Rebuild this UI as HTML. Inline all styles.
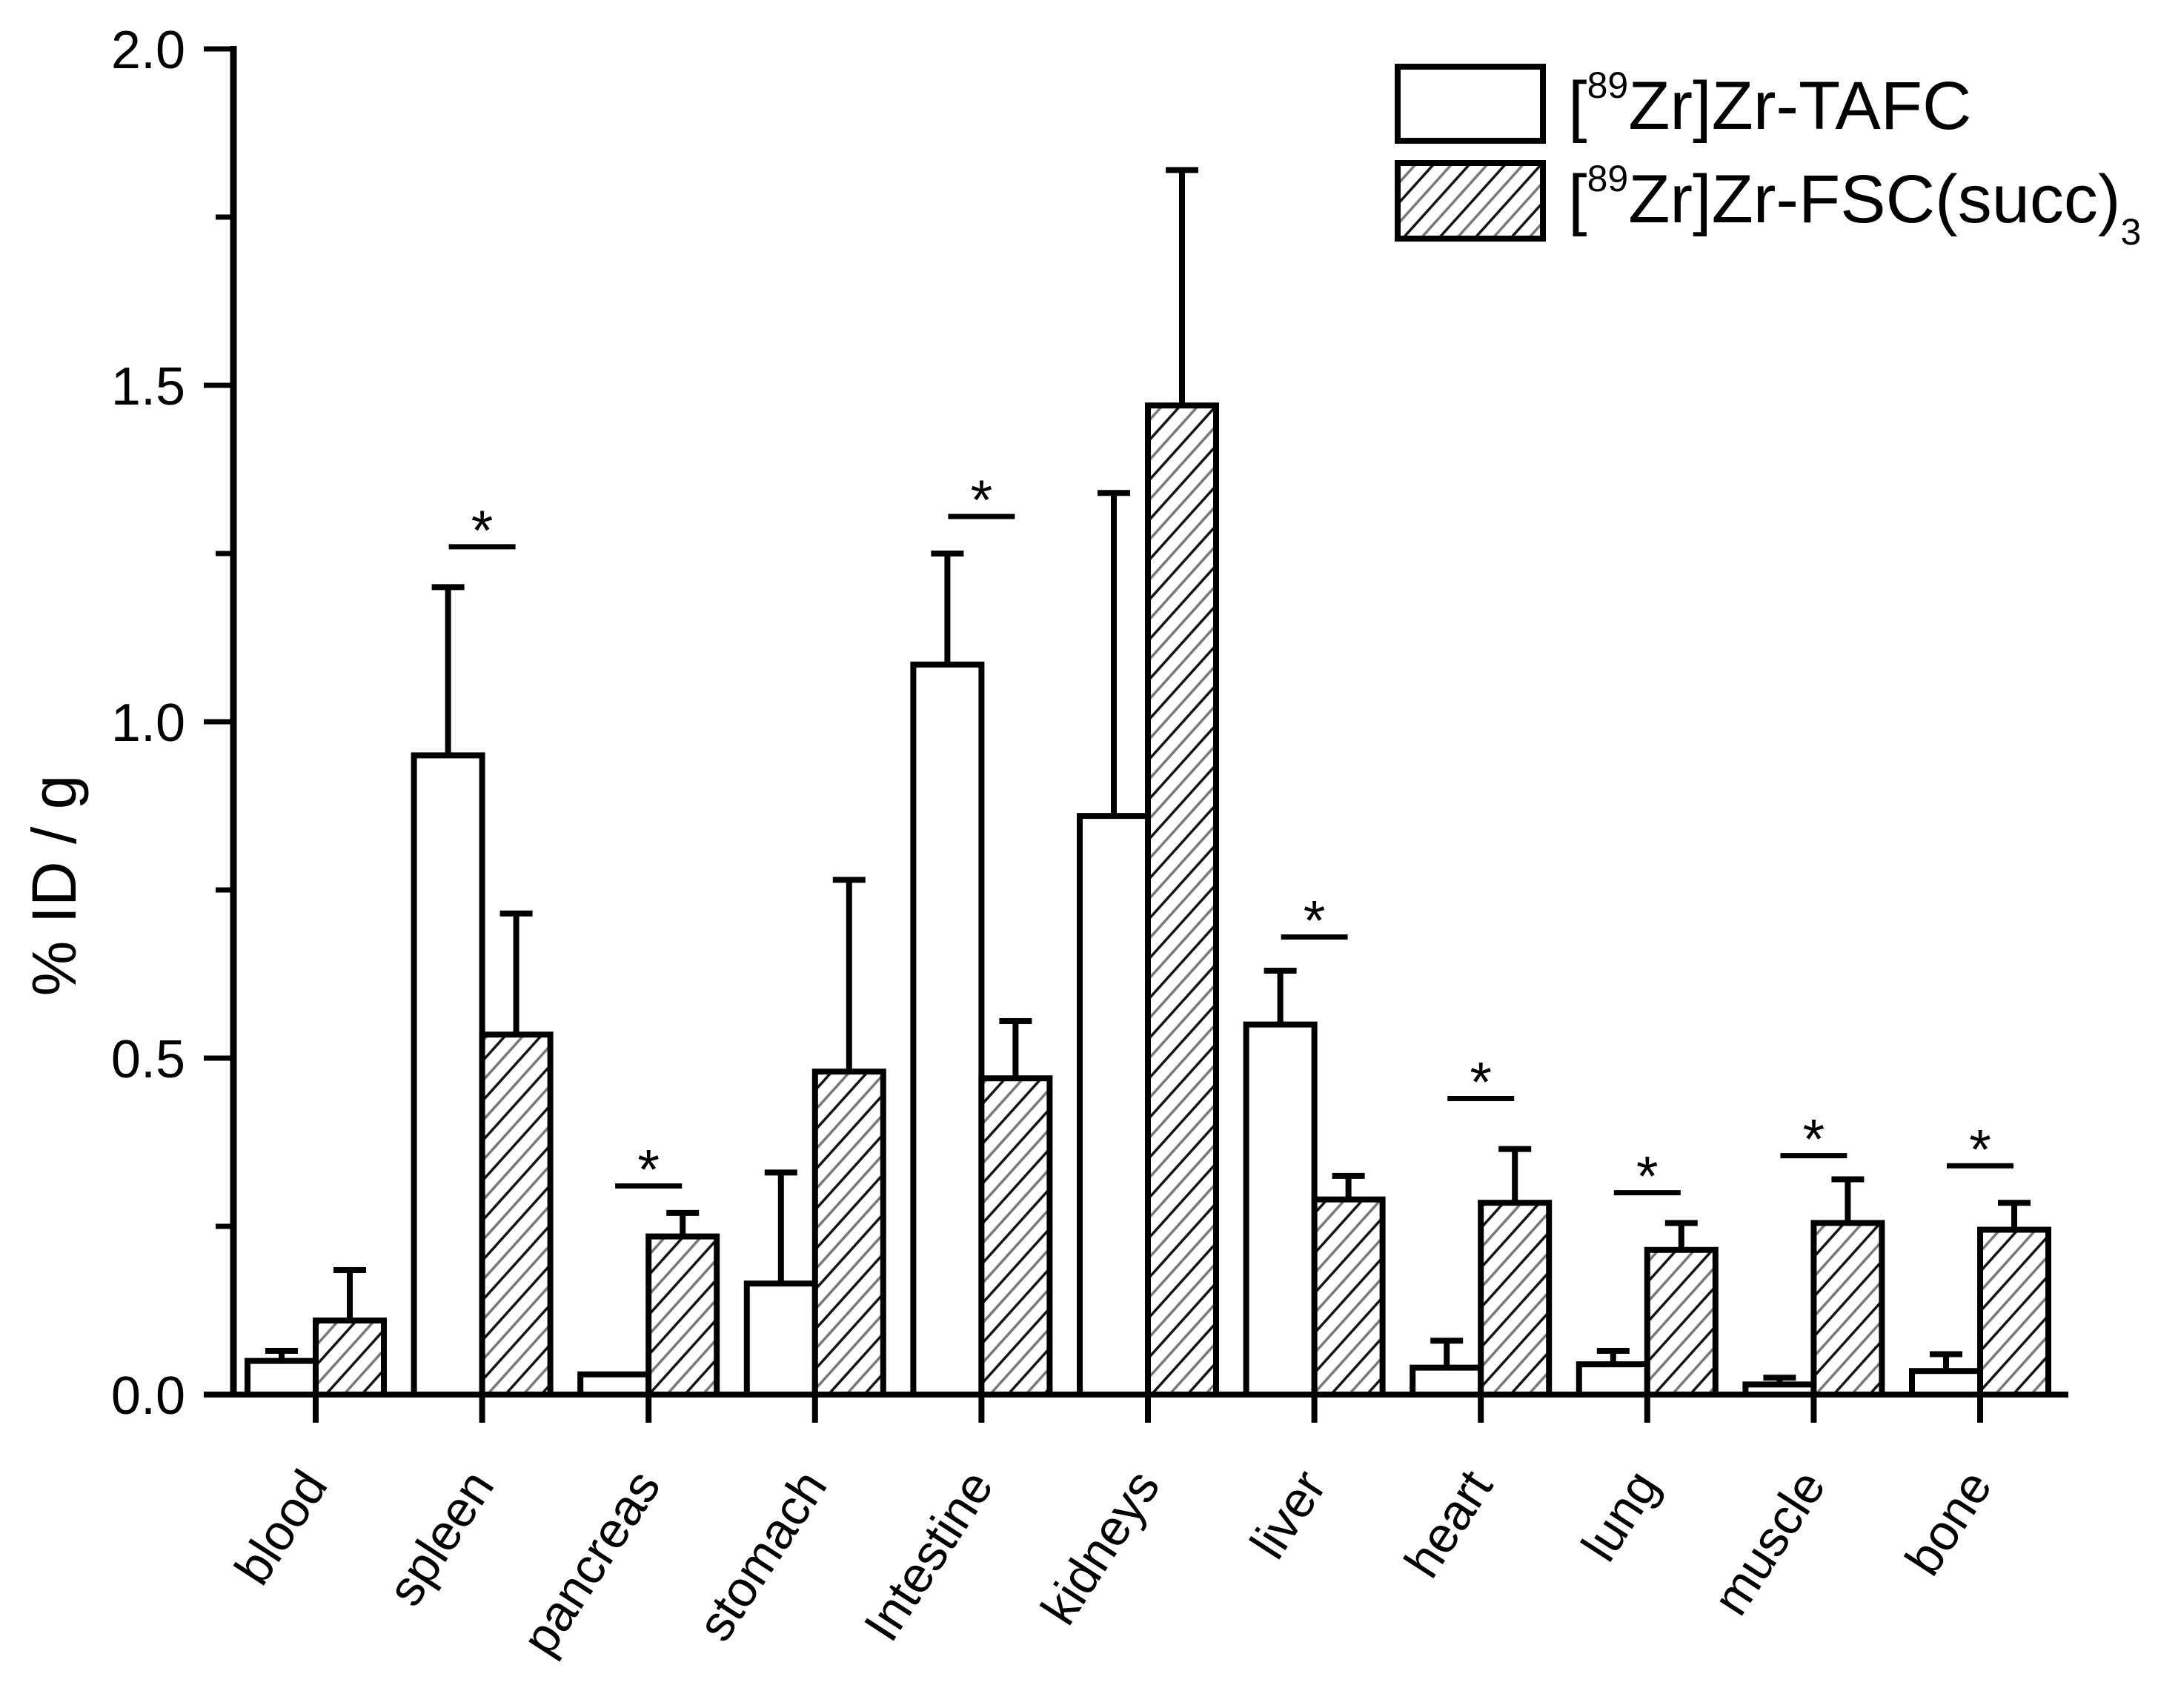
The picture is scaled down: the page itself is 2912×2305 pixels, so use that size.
<!DOCTYPE html>
<html><head><meta charset="utf-8"><title>Biodistribution</title>
<style>html,body{margin:0;padding:0;background:#fff}svg{display:block}</style></head>
<body>
<svg id="chart" width="2912" height="2305" viewBox="0 0 2912 2305" xmlns="http://www.w3.org/2000/svg" font-family="'Liberation Sans', sans-serif">
<defs>
<pattern id="hatch" patternUnits="userSpaceOnUse" width="36" height="36" patternTransform="rotate(42)">
<rect width="36" height="36" fill="#fff"/>
<line x1="2" y1="0" x2="2" y2="36" stroke="#111" stroke-width="3.5"/>
<line x1="20" y1="0" x2="20" y2="36" stroke="#777" stroke-width="3.5"/>
</pattern>
</defs>
<rect width="2912" height="2305" fill="#fff"/>
<g id="plot"></g>
<text transform="translate(102,1195) rotate(-90)" text-anchor="middle" font-size="84">% ID / g</text>
<g>
<rect x="1886" y="90" width="196" height="100" fill="#fff" stroke="#000" stroke-width="8"/>
<text x="2116" y="174" font-size="92">[<tspan font-size="50" dy="-42">89</tspan><tspan dy="42">Zr]Zr-TAFC</tspan></text>
<rect x="1886" y="220" width="196" height="102" fill="url(#hatch)" stroke="#000" stroke-width="8"/>
<text x="2116" y="300" font-size="92">[<tspan font-size="50" dy="-42">89</tspan><tspan dy="42">Zr]Zr-FSC(succ)</tspan><tspan font-size="50" dy="30">3</tspan></text>
</g>
</svg>
<script>
const categories = ["blood","spleen","pancreas","stomach","Intestine","kidneys","liver","heart","lung","muscle","bone"];
const tafcValues = [0.05,0.95,0.03,0.165,1.085,0.86,0.55,0.04,0.045,0.015,0.035];
const tafcErrTop = [0.065,1.2,0.03,0.33,1.25,1.34,0.63,0.08,0.065,0.025,0.06];
const fscValues = [0.11,0.535,0.235,0.48,0.47,1.47,0.29,0.285,0.215,0.255,0.245];
const fscErrTop = [0.185,0.715,0.27,0.765,0.555,1.82,0.325,0.365,0.255,0.32,0.285];
const sigLevels = [null,1.26,0.31,null,1.305,null,0.68,0.44,0.30,0.355,0.34];
const yTicks = [0,0.5,1.0,1.5,2.0];
const yTickLabels = ["0.0","0.5","1.0","1.5","2.0"];

const NS = "http://www.w3.org/2000/svg";
const X0 = 426, STEP = 224.6, BW = 92, AXX = 315, AXY = 1882, XEND = 2791;
function yScale(v){ return AXY - v * 908; }
function xCenter(i){ return X0 + i * STEP; }
const plot = document.getElementById('plot');
function mk(tag, attrs){ const e = document.createElementNS(NS, tag); for (const k in attrs) e.setAttribute(k, attrs[k]); plot.appendChild(e); return e; }

categories.forEach((c, i) => {
  const cx = xCenter(i);
  let h = AXY - yScale(tafcValues[i]);
  let r = mk('rect', {x: cx - BW, y: yScale(tafcValues[i]), width: BW, height: h, fill: '#fff', stroke: '#000', 'stroke-width': 8});
  
  
  if (tafcErrTop[i] > tafcValues[i]) {
    let ex = cx - BW / 2;
    let l = mk('line', {x1: ex, x2: ex, y1: yScale(tafcValues[i]), y2: yScale(tafcErrTop[i]), stroke: '#000', 'stroke-width': 8});
    
    
    let cp = mk('line', {x1: ex - 22, x2: ex + 22, y1: yScale(tafcErrTop[i]), y2: yScale(tafcErrTop[i]), stroke: '#000', 'stroke-width': 8});
    
    
  }
  h = AXY - yScale(fscValues[i]);
  r = mk('rect', {x: cx, y: yScale(fscValues[i]), width: BW, height: h, fill: 'url(#hatch)', stroke: '#000', 'stroke-width': 8});
  
  
  {
    let ex = cx + BW / 2;
    let l = mk('line', {x1: ex, x2: ex, y1: yScale(fscValues[i]), y2: yScale(fscErrTop[i]), stroke: '#000', 'stroke-width': 8});
    
    
    let cp = mk('line', {x1: ex - 22, x2: ex + 22, y1: yScale(fscErrTop[i]), y2: yScale(fscErrTop[i]), stroke: '#000', 'stroke-width': 8});
    
    
  }
  if (sigLevels[i] !== null) {
    let sy = yScale(sigLevels[i]);
    let sl = mk('line', {x1: cx - 45, x2: cx + 45, y1: sy, y2: sy, stroke: '#000', 'stroke-width': 7});
    
    
    let st = mk('text', {x: cx, y: sy + 4, 'text-anchor': 'middle', 'font-size': 76});
    st.textContent = '*';
    
    
  }
  let t = mk('line', {x1: cx, x2: cx, y1: AXY, y2: AXY + 38, stroke: '#000', 'stroke-width': 8});
  
  
  let lb = mk('text', {transform: 'translate(' + (cx + 18) + ',' + 2004 + ') rotate(-57)', 'text-anchor': 'end', 'font-size': 68});
  lb.textContent = c;
  
  
});

let ya = mk('line', {x1: AXX, x2: AXX, y1: yScale(2.0) - 4, y2: AXY + 4, stroke: '#000', 'stroke-width': 9});


let xa = mk('line', {x1: AXX - 40, x2: XEND, y1: AXY, y2: AXY, stroke: '#000', 'stroke-width': 8});


yTicks.forEach((v, k) => {
  let tk = mk('line', {x1: AXX - 40, x2: AXX, y1: yScale(v), y2: yScale(v), stroke: '#000', 'stroke-width': 7});
  
  
  let tl = mk('text', {x: 250, y: yScale(v) + 26, 'text-anchor': 'end', 'font-size': 72});
  tl.textContent = yTickLabels[k];
  
  
  if (k < yTicks.length - 1) {
    let mv = (yTicks[k] + yTicks[k + 1]) / 2;
    let mt = mk('line', {x1: AXX - 24, x2: AXX, y1: yScale(mv), y2: yScale(mv), stroke: '#000', 'stroke-width': 7});
    
    
  }
});
</script>
</body></html>
